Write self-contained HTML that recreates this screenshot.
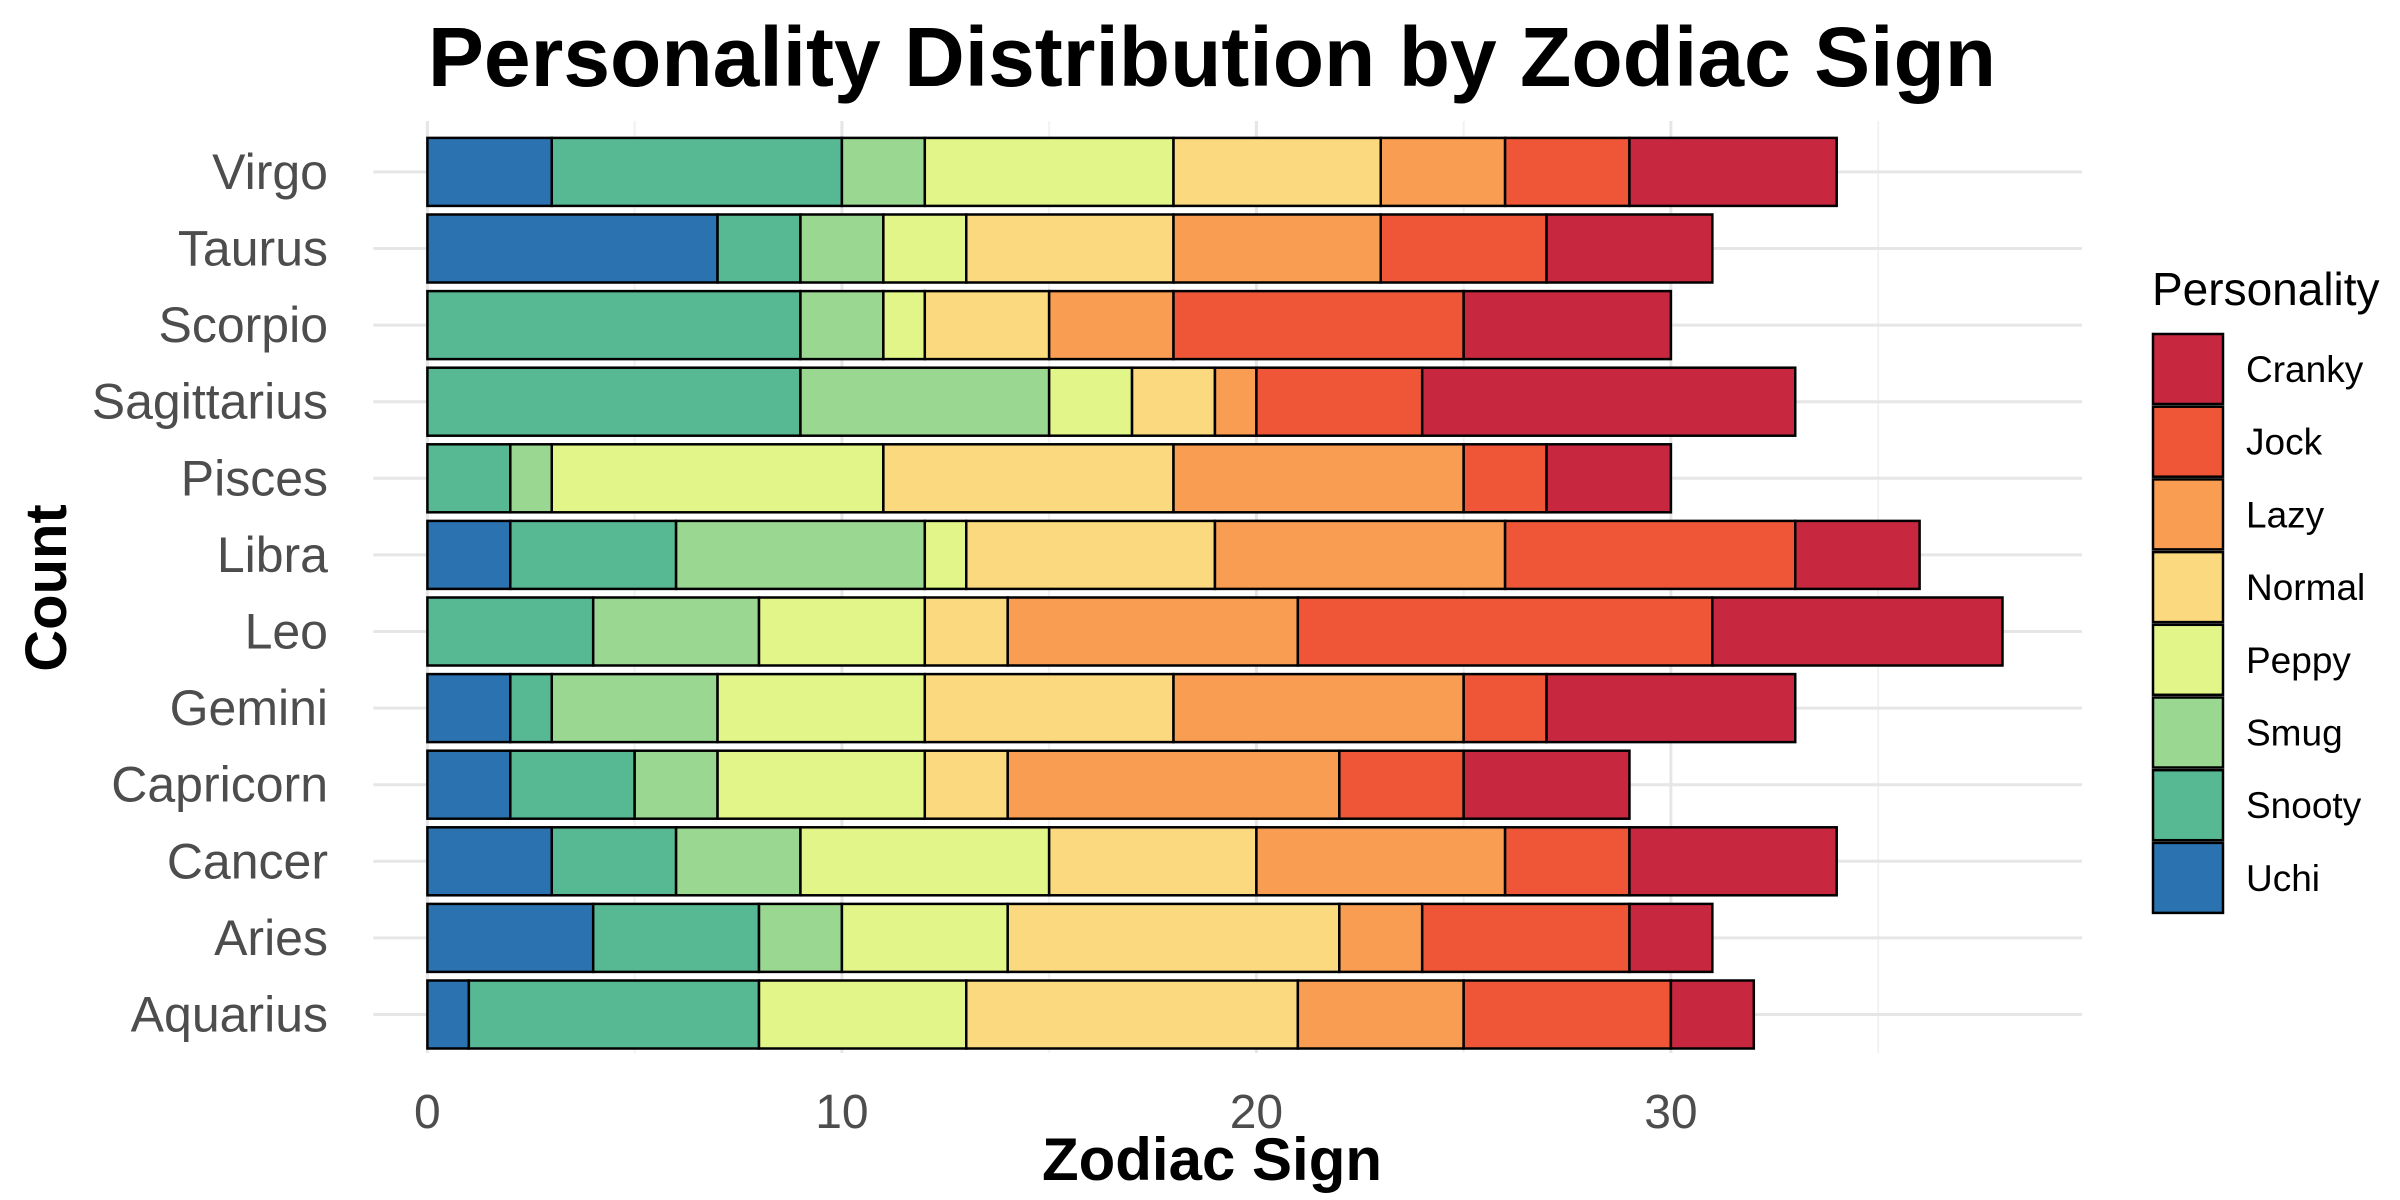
<!DOCTYPE html>
<html><head><meta charset="utf-8"><style>
html,body{margin:0;padding:0;background:#fff;}
svg{display:block;font-family:"Liberation Sans",Arial,sans-serif;}
</style></head><body>
<svg id="chart" width="2400" height="1200" viewBox="0 0 2400 1200">
<text x="1212" y="86" text-anchor="middle" font-size="84" font-weight="bold" fill="#000">Personality Distribution by Zodiac Sign</text>
<g id="grid"></g>
<g id="bars"></g>
<g id="yaxis"></g>
<g id="xaxis"></g>
<text x="1212" y="1180" text-anchor="middle" font-size="60" font-weight="bold" fill="#000">Zodiac Sign</text>
<text transform="translate(66,588) rotate(-90)" text-anchor="middle" font-size="58" font-weight="bold" fill="#000">Count</text>
<g id="legend">
<text x="2152" y="305" font-size="46" fill="#000">Personality</text>
</g>
</svg>
<script>
const categories = ["Aquarius","Aries","Cancer","Capricorn","Gemini","Leo","Libra","Pisces","Sagittarius","Scorpio","Taurus","Virgo"];
const personalities = ["Uchi","Snooty","Smug","Peppy","Normal","Lazy","Jock","Cranky"];
const uchi   = [1,4,3,2,2,0,2,0,0,0,7,3];
const snooty = [7,4,3,3,1,4,4,2,9,9,2,7];
const smug   = [0,2,3,2,4,4,6,1,6,2,2,2];
const peppy  = [5,4,6,5,5,4,1,8,2,1,2,6];
const normal = [8,8,5,2,6,2,6,7,2,3,5,5];
const lazy   = [4,2,6,8,7,7,7,7,1,3,5,3];
const jock   = [5,5,3,3,2,10,7,2,4,7,4,3];
const cranky = [2,2,5,4,6,7,3,3,9,5,4,5];
const xTicks = [0,10,20,30];
const xMinor = [5,15,25,35];

const series = [uchi,snooty,smug,peppy,normal,lazy,jock,cranky];
const colors = ["#2B73B0","#57B994","#9AD891","#E2F589","#FBD97E","#F99D52","#EF5637","#C8283F"];
const NS="http://www.w3.org/2000/svg";
const x0=427.4, ppu=41.45, panelL=427.4-54, panelR=2082, panelT=121, panelB=1053;
const n=categories.length, step=76.6, bh=68;
function xs(v){return x0+v*ppu;}
function ys(i){return 1014.5 - i*step;}
function mk(tag,attrs,parent){const e=document.createElementNS(NS,tag);for(const k in attrs)e.setAttribute(k,attrs[k]);parent.appendChild(e);return e;}
const grid=document.getElementById('grid'), bars=document.getElementById('bars'), yax=document.getElementById('yaxis'), xax=document.getElementById('xaxis'), leg=document.getElementById('legend');
xMinor.forEach(v=>{const l=mk('line',{x1:xs(v),x2:xs(v),y1:panelT,y2:panelB,stroke:'#f2f2f2','stroke-width':2},grid);

});
xTicks.forEach(v=>{const l=mk('line',{x1:xs(v),x2:xs(v),y1:panelT,y2:panelB,stroke:'#e6e6e6','stroke-width':3},grid);


const t=mk('text',{x:xs(v),y:1128,'text-anchor':'middle','font-size':48,fill:'#4d4d4d'},xax);t.textContent=v;

});
categories.forEach((c,i)=>{
 const y=ys(i);
 const g=mk('line',{x1:panelL,x2:panelR,y1:y,y2:y,stroke:'#e6e6e6','stroke-width':3},grid);
 
 
 const t=mk('text',{x:328,y:y+17,'text-anchor':'end','font-size':50,fill:'#4d4d4d'},yax);t.textContent=c;
 
 
 let cum=0;
 series.forEach((s,k)=>{
  const v=s[i];
  if(v>0){
   const r=mk('rect',{x:xs(cum),y:y-bh/2,width:v*ppu,height:bh,fill:colors[k],stroke:'#000','stroke-width':2.5},bars);
   
   
  }
  cum+=v;
 });
});
for(let j=0;j<8;j++){
 const k=7-j, y=334+j*72.7;
 const r=mk('rect',{x:2153,y:y,width:70,height:70,fill:colors[k],stroke:'#000','stroke-width':2.5},leg);
 
 
 const t=mk('text',{x:2246,y:y+48,'font-size':37,fill:'#000'},leg);t.textContent=personalities[k];
 
 
}
</script>
</body></html>
